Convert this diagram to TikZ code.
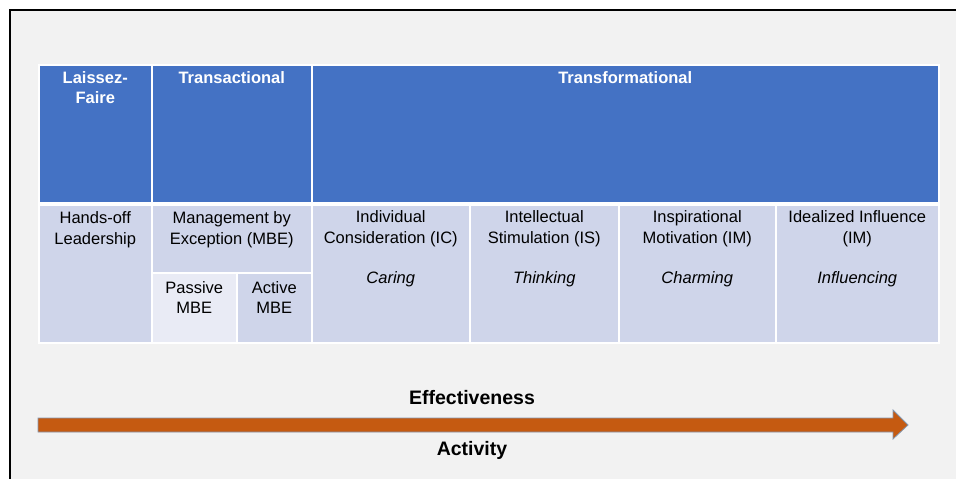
\documentclass[tikz,border=0pt]{standalone}
\usepackage{fontspec}
\setmainfont{Liberation Sans}
\definecolor{hdblue}{HTML}{4472C4}
\definecolor{cellgray}{HTML}{CFD5EA}
\definecolor{celllight}{HTML}{E9EBF5}
\definecolor{arrorange}{HTML}{C55A11}
\definecolor{arredge}{HTML}{8497B0}
\definecolor{bggray}{HTML}{F2F2F2}
\tikzset{
  cell/.style={draw=white,line width=1.5pt,inner sep=0pt,anchor=north west},
  head/.style={cell,fill=hdblue},
  body/.style={cell,fill=cellgray},
  htext/.style={anchor=north,inner sep=0pt,text=white,align=center,font=\fontsize{16.5}{20}\selectfont\bfseries},
  btext/.style={anchor=north,inner sep=0pt,align=center,font=\fontsize{16.5}{21}\selectfont},
  axtext/.style={font=\fontsize{19.5}{22}\selectfont\bfseries}
}
\begin{document}
\begin{tikzpicture}[x=1pt,y=-1pt]
\useasboundingbox (0,0) rectangle (956,479);
\fill[white] (0,0) rectangle (956,479);
\fill[bggray] (10,10) rectangle (956,479);
\draw[line width=2pt] (10,479)--(10,10)--(956,10);
% header row
\foreach \n/\x/\w in {lf/38/113,ta/151/160,tf/311/627}
{ \node[head,minimum width=\w,minimum height=138] (\n) at (\x,64) {};
}
\node[htext] (lft) at ([yshift=-7.7pt]lf.north) {Laissez-\\Faire};
\node[htext] (tat) at ([yshift=-7.7pt]ta.north) {Transactional};
\node[htext] (tft) at ([yshift=-7.7pt]tf.north) {Transformational};
% lower row
\foreach \n/\x/\w in {hf/38/113,ic/311/158,is/469/149,im/618/157,ii/775/163}
{ \node[body,minimum width=\w,minimum height=138] (\n) at (\x,204) {};
}
\node[body,minimum width=160,minimum height=68] (mbe) at (151,204) {};
\node[body,fill=celllight,minimum width=85,minimum height=70] (pas) at (151,272) {};
\node[body,minimum width=75,minimum height=70] (act) at (236,272) {};
\node[btext] (hft) at ([yshift=-7.7pt]hf.north) {Hands-off\\Leadership};
\node[btext] (mbet) at ([yshift=-7.7pt]mbe.north) {Management by\\Exception (MBE)};
\node[btext] (past) at ([yshift=-9.5pt]pas.north) {Passive\\[-1pt]MBE};
\node[btext] (actt) at ([yshift=-9.5pt]act.north) {Active\\[-1pt]MBE};
\node[btext] (ict) at ([yshift=-6.7pt]ic.north) {Individual\\Consideration (IC)\\[19pt]\textit{Caring}};
\node[btext] (ist) at ([yshift=-6.7pt]is.north) {Intellectual\\Stimulation (IS)\\[19pt]\textit{Thinking}};
\node[btext] (imt) at ([yshift=-6.7pt]im.north) {Inspirational\\Motivation (IM)\\[19pt]\textit{Charming}};
\node[btext] (iit) at ([yshift=-6.7pt]ii.north) {Idealized Influence\\(IM)\\[19pt]\textit{Influencing}};
% arrow
\coordinate (arrs) at (38,425);
\coordinate (arre) at (908,425);
\draw[arredge,fill=arrorange,line width=0.8pt] (arrs)++(0,-7)--(893,418)--(893,410)--(arre)--(893,439)--(893,432)--(38,432)--cycle;
\node[axtext] (eff) at (472,398) {Effectiveness};
\node[axtext] (actv) at (472,450) {Activity};
\end{tikzpicture}
\end{document}
